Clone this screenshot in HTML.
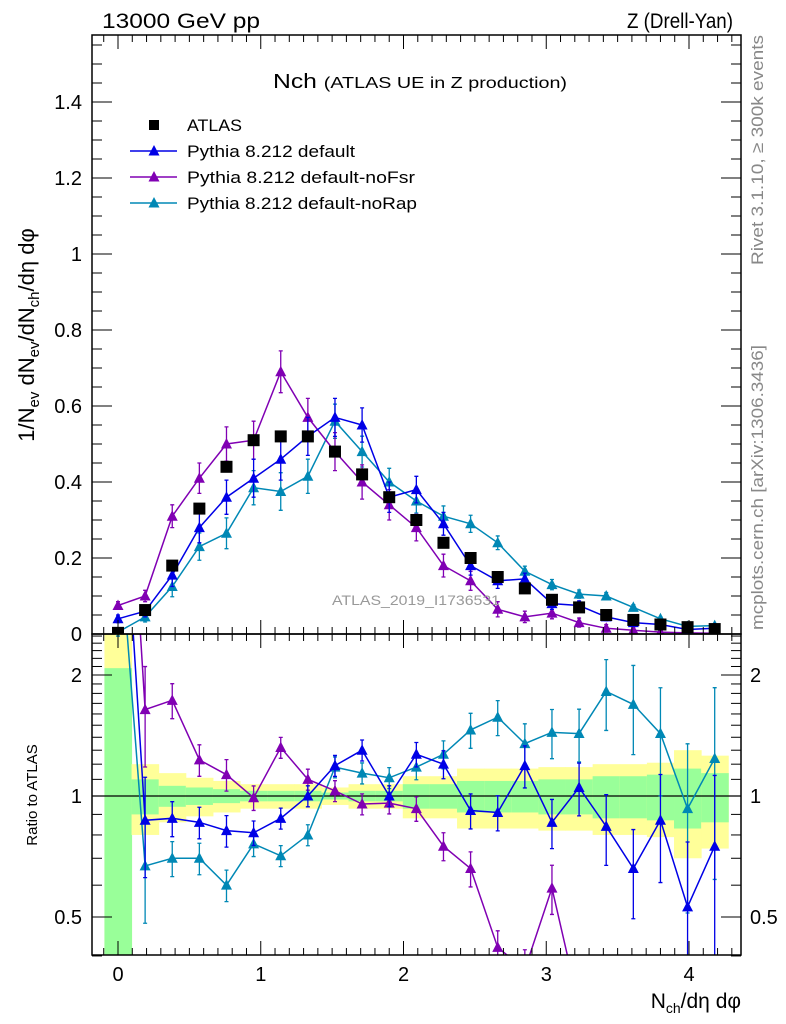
<!DOCTYPE html>
<html><head><meta charset="utf-8"><style>
html,body{margin:0;padding:0;background:#fff;overflow:hidden;width:786px;height:1024px;}
svg{display:block;font-family:"Liberation Sans",sans-serif;}
</style></head><body>
<svg id="c" width="786" height="1024">
<defs>
<clipPath id="cm"><rect x="92" y="35" width="649" height="599"/></clipPath>
<clipPath id="cr"><rect x="92" y="634" width="649" height="321"/></clipPath>
</defs>
<g id="bands" clip-path="url(#cr)"></g>
<g id="main" clip-path="url(#cm)"></g>
<g id="ratio" clip-path="url(#cr)"></g>
<g id="axes"></g>
<text x="102" y="28" font-size="21" textLength="158" lengthAdjust="spacingAndGlyphs">13000 GeV pp</text>
<text x="627" y="28" font-size="21" textLength="106" lengthAdjust="spacingAndGlyphs">Z (Drell-Yan)</text>
<text x="273" y="88" font-size="20" textLength="294" lengthAdjust="spacingAndGlyphs">Nch <tspan font-size="16">(ATLAS UE in Z production)</tspan></text>
<text x="332" y="605" font-size="14" fill="#999" textLength="168" lengthAdjust="spacingAndGlyphs">ATLAS_2019_I1736531</text>
<text transform="translate(763,265) rotate(-90)" font-size="17" fill="#888" textLength="230" lengthAdjust="spacingAndGlyphs">Rivet 3.1.10, ≥ 300k events</text>
<text transform="translate(763,630) rotate(-90)" font-size="17" fill="#888" textLength="285" lengthAdjust="spacingAndGlyphs">mcplots.cern.ch [arXiv:1306.3436]</text>
<text transform="translate(34,335) rotate(-90)" font-size="22" text-anchor="middle">1/N<tspan font-size="15" dy="5">ev</tspan><tspan dy="-5"> dN</tspan><tspan font-size="15" dy="5">ev</tspan><tspan dy="-5">/dN</tspan><tspan font-size="15" dy="5">ch</tspan><tspan dy="-5">/dη dφ</tspan></text>
<text transform="translate(37,795) rotate(-90)" font-size="15" text-anchor="middle">Ratio to ATLAS</text>
<text x="741" y="1008" font-size="21" text-anchor="end">N<tspan font-size="14" dy="5">ch</tspan><tspan dy="-5">/dη dφ</tspan></text>
<g id="legend"></g>
</svg>
<script>
const xs=[0,0.19,0.38,0.57,0.76,0.95,1.14,1.33,1.52,1.71,1.90,2.09,2.28,2.47,2.66,2.85,3.04,3.23,3.42,3.61,3.80,3.99,4.18];
const atlas=[0.003,0.063,0.18,0.33,0.44,0.51,0.52,0.52,0.48,0.42,0.36,0.30,0.24,0.20,0.15,0.12,0.09,0.07,0.05,0.037,0.025,0.018,0.013];
const pDefault=[0.04,0.06,0.155,0.28,0.36,0.41,0.46,0.52,0.57,0.55,0.36,0.38,0.29,0.18,0.14,0.145,0.08,0.075,0.045,0.03,0.025,0.012,0.015];
const pNoFsr=[0.075,0.10,0.31,0.41,0.50,0.51,0.69,0.57,0.48,0.40,0.34,0.28,0.18,0.14,0.065,0.045,0.055,0.03,0.015,0.01,0.005,0.003,0.002];
const pNoRap=[0.005,0.045,0.125,0.23,0.265,0.385,0.375,0.415,0.56,0.48,0.40,0.35,0.31,0.29,0.24,0.165,0.13,0.105,0.10,0.07,0.04,0.02,0.022];
const mainErr=[0.01,0.015,0.03,0.04,0.045,0.05,0.055,0.05,0.05,0.045,0.04,0.035,0.03,0.025,0.02,0.015,0.015,0.012,0.01,0.008,0.006,0.004,0.004];
const rDefault=[10,0.87,0.88,0.86,0.82,0.81,0.88,1.0,1.19,1.30,1.0,1.27,1.20,0.92,0.91,1.19,0.86,1.05,0.84,0.66,0.87,0.53,0.75];
const rNoFsr=[20,1.64,1.73,1.23,1.13,0.99,1.32,1.10,1.03,0.955,0.96,0.93,0.75,0.66,0.42,0.37,0.59,0.3,0.2,0.2,0.15,0.15,0.15];
const rNoRap=[5,0.67,0.70,0.70,0.60,0.76,0.71,0.80,1.18,1.14,1.11,1.18,1.27,1.46,1.57,1.35,1.44,1.43,1.82,1.69,1.43,0.93,1.24];
const rErr=[0.5,0.28,0.1,0.09,0.09,0.07,0.06,0.06,0.06,0.06,0.06,0.07,0.08,0.1,0.1,0.12,0.14,0.15,0.2,0.25,0.3,0.45,0.5];
const yellowHalf=[0,0.2,0.14,0.11,0.09,0.07,0.07,0.07,0.05,0.07,0.07,0.12,0.12,0.17,0.17,0.17,0.18,0.18,0.2,0.2,0.21,0.3,0.26];
const greenHalf=[0,0.1,0.06,0.05,0.04,0.03,0.03,0.03,0.02,0.03,0.03,0.07,0.07,0.09,0.09,0.09,0.10,0.10,0.12,0.12,0.13,0.17,0.14];
const yTicks=[0,0.2,0.4,0.6,0.8,1,1.2,1.4];
const yTickLabels=["0","0.2","0.4","0.6","0.8","1","1.2","1.4"];
const xTicks=[0,1,2,3,4];
const rTicks=[0.5,1,2];

const NS="http://www.w3.org/2000/svg";
const X=v=>118+v*142.75;
const Y=v=>634-v*380;
const R=v=>796-Math.log2(v)*121;
function mk(p,tag,at){const e=document.createElementNS(NS,tag);for(const k in at)e.setAttribute(k,at[k]);p.appendChild(e);return e;}
const gM=document.getElementById('main'),gR=document.getElementById('ratio'),gB=document.getElementById('bands'),gA=document.getElementById('axes'),gL=document.getElementById('legend');
const hw=0.095;
xs.forEach((x,i)=>{
  let yl,yh,gl,gh;
  if(i===0){yl=0.3;yh=3;gl=0.3;gh=2.08;}
  else{yl=1-yellowHalf[i];yh=1+yellowHalf[i];gl=1-greenHalf[i];gh=1+greenHalf[i];}
  const y=mk(gB,'rect',{x:X(x-hw),y:R(yh),width:X(x+hw)-X(x-hw)+0.5,height:R(yl)-R(yh),fill:'#ffff99'});
  
  
  const g=mk(gB,'rect',{x:X(x-hw),y:R(gh),width:X(x+hw)-X(x-hw)+0.5,height:R(gl)-R(gh),fill:'#99ff99'});
  
  
});
mk(gB,'line',{x1:92,x2:741,y1:R(1),y2:R(1),stroke:'#000','stroke-width':1.2});
function tri(p,cx,cy,c){return mk(p,'path',{d:`M${cx-5.5},${cy+4.5}L${cx+5.5},${cy+4.5}L${cx},${cy-6}Z`,fill:c});}
function series(g,vals,errs,c,name,fy,rel){
  const pts=xs.map((x,i)=>X(x)+','+fy(vals[i])).join(' ');
  const l=mk(g,'polyline',{points:pts,fill:'none',stroke:c,'stroke-width':1.5});
  
  
  xs.forEach((x,i)=>{
    const v=vals[i];const e=rel?v*errs[i]:errs[i];
    const lo=fy(Math.max(v-e,1e-4)),hi=fy(v+e);
    const eb=mk(g,'path',{d:`M${X(x)},${lo}V${hi}M${X(x)-2},${lo}H${X(x)+2}M${X(x)-2},${hi}H${X(x)+2}`,stroke:c,'stroke-width':1.3,fill:'none'});
    
    
    const t=tri(g,X(x),fy(v),c);
    
    
  });
}
const cB='#0000e6',cP='#8000b3',cT='#0088b5';
series(gM,pNoRap,mainErr.map((e,i)=>e*0.9),cT,'norap',Y,false);
series(gM,pNoFsr,mainErr,cP,'nofsr',Y,false);
series(gM,pDefault,mainErr,cB,'default',Y,false);
xs.forEach((x,i)=>{const s=mk(gM,'rect',{x:X(x)-6,y:Y(atlas[i])-6,width:12,height:12,fill:'#000'});
  
  });
series(gR,rNoRap,rErr,cT,'norap-ratio',R,true);
series(gR,rNoFsr,rErr,cP,'nofsr-ratio',R,true);
series(gR,rDefault,rErr,cB,'default-ratio',R,true);
[[35,634],[634,955]].forEach(([t,b],k)=>{const f=mk(gA,'rect',{x:92,y:t,width:649,height:b-t,fill:'none',stroke:'#000','stroke-width':1.5});
  
  });
for(let v=-0.1;v<=4.35;v+=0.1){const m=Math.abs(v-Math.round(v))<1e-6;const len=m?14:7;
  [[634,-1],[955,-1],[35,1],[634,1]].forEach(([y0,d])=>mk(gA,'line',{x1:X(v),x2:X(v),y1:y0,y2:y0+d*len,stroke:'#000','stroke-width':1}));}
xTicks.forEach(v=>{const t=mk(gA,'text',{x:X(v),y:981,'font-size':20,'text-anchor':'middle'});t.textContent=v;
  });
for(let v=0;v<=1.57;v+=0.05){const m=Math.abs(v*5-Math.round(v*5))<1e-6;const len=m?20:10;
  mk(gA,'line',{x1:92,x2:92+len,y1:Y(v),y2:Y(v),stroke:'#000'});mk(gA,'line',{x1:741,x2:741-len,y1:Y(v),y2:Y(v),stroke:'#000'});}
yTicks.forEach((v,i)=>{const t=mk(gA,'text',{x:82,y:Y(v)+7,'font-size':20,'text-anchor':'end'});t.textContent=yTickLabels[i];
  });
[0.4,0.5,0.6,0.7,0.8,0.9,1,1.1,1.2,1.3,1.4,1.5,1.6,1.7,1.8,1.9,2,2.1,2.2,2.3,2.4,2.5].forEach(v=>{
  const m=rTicks.includes(v);const len=m?20:10;
  mk(gA,'line',{x1:92,x2:92+len,y1:R(v),y2:R(v),stroke:'#000'});mk(gA,'line',{x1:741,x2:741-len,y1:R(v),y2:R(v),stroke:'#000'});});
rTicks.forEach(v=>{[[82,'end'],[750,'start']].forEach(([x,a])=>{const t=mk(gA,'text',{x:x,y:R(v)+7,'font-size':20,'text-anchor':a});t.textContent=v;
  });});
const leg=[['ATLAS','#000',0,55],['Pythia 8.212 default',cB,1,168],['Pythia 8.212 default-noFsr',cP,1,228],['Pythia 8.212 default-noRap',cT,1,230]];
leg.forEach(([lab,c,tr,w],i)=>{const y=125+i*26;
  if(tr){mk(gL,'line',{x1:130,x2:177,y1:y,y2:y,stroke:c,'stroke-width':1.5});tri(gL,154,y,c);}
  else mk(gL,'rect',{x:149,y:y-5,width:10,height:10,fill:'#000'});
  const t=mk(gL,'text',{x:187,y:y+6,'font-size':17,textLength:w,lengthAdjust:'spacingAndGlyphs'});t.textContent=lab;
  });
</script>
</body></html>
